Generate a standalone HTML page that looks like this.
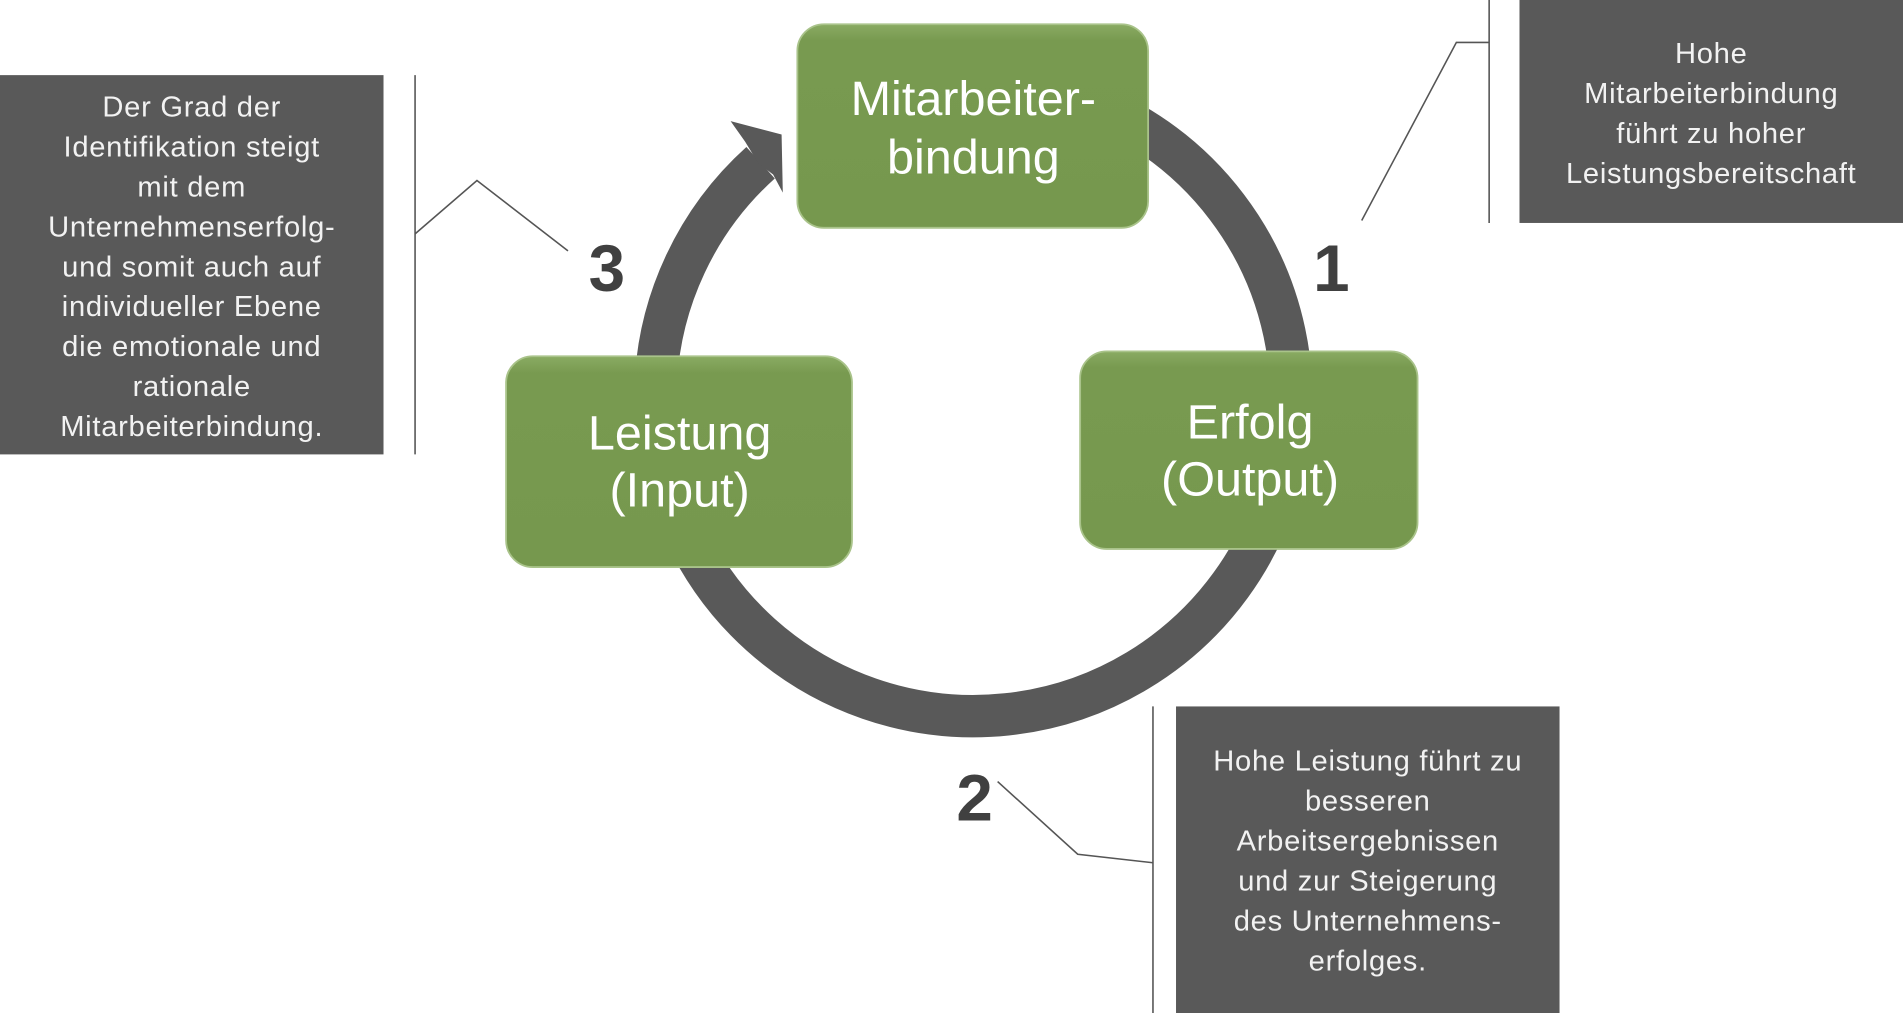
<!DOCTYPE html>
<html><head><meta charset="utf-8"><style>
html,body{margin:0;padding:0;background:#fff;overflow:hidden}
svg{display:block}
.bt{font-family:"Liberation Sans",sans-serif;fill:#f2f2f2;font-size:24px;text-anchor:middle;letter-spacing:0.6px}
.gt{font-family:"Liberation Sans",sans-serif;fill:#fff;font-size:40px;text-anchor:middle}
.num{font-family:"Liberation Sans",sans-serif;fill:#404040;font-size:54px;font-weight:bold;text-anchor:middle}
</style></head><body>
<svg width="1903" height="1013" viewBox="0 0 1568 836" preserveAspectRatio="none" xmlns="http://www.w3.org/2000/svg">
<defs>
<linearGradient id="g" x1="0" y1="0" x2="0" y2="1">
<stop offset="0" stop-color="#8aab63"/><stop offset="0.08" stop-color="#789a50"/><stop offset="1" stop-color="#76984e"/>
</linearGradient>
</defs>
<!-- ring -->
<path d="M626.7,134.3 A262,262 0 1 0 933,102.1" fill="none" stroke="#595959" stroke-width="35"/>
<polygon points="602,100 644,111 645,159 637,144 625,135 614,117" fill="#595959"/>
<!-- green boxes -->
<rect x="657" y="20" width="289" height="168" rx="22" fill="url(#g)" stroke="#a9c38a" stroke-width="1.5"/>
<rect x="890" y="290" width="278" height="163" rx="22" fill="url(#g)" stroke="#a9c38a" stroke-width="1.5"/>
<rect x="417" y="294" width="285" height="174" rx="22" fill="url(#g)" stroke="#a9c38a" stroke-width="1.5"/>
<text class="gt" x="802" y="95">Mitarbeiter-</text>
<text class="gt" x="802" y="143">bindung</text>
<text class="gt" x="1030" y="362">Erfolg</text>
<text class="gt" x="1030" y="409">(Output)</text>
<text class="gt" x="560" y="371">Leistung</text>
<text class="gt" x="560" y="418">(Input)</text>
<!-- numbers -->
<text class="num" x="1097" y="240">1</text>
<text class="num" x="500" y="240">3</text>
<text class="num" x="803" y="677">2</text>
<!-- connectors -->
<g stroke="#555" stroke-width="1.3" fill="none">
<line x1="342" y1="62" x2="342" y2="375"/>
<polyline points="342,193 393,149 468,207"/>
<line x1="1227" y1="0" x2="1227" y2="184"/>
<polyline points="1227,35 1200,35 1122,182"/>
<line x1="950" y1="583" x2="950" y2="836"/>
<polyline points="950,712 888,705 822,645"/>
</g>
<!-- dark boxes -->
<rect x="0" y="62" width="316" height="313" fill="#595959"/>
<rect x="1252" y="0" width="316" height="184" fill="#595959"/>
<rect x="969" y="583" width="316" height="253" fill="#595959"/>
<g class="bt">
<text x="158" y="96">Der Grad der</text>
<text x="158" y="129">Identifikation steigt</text>
<text x="158" y="162">mit dem</text>
<text x="158" y="195">Unternehmenserfolg-</text>
<text x="158" y="228">und somit auch auf</text>
<text x="158" y="261">individueller Ebene</text>
<text x="158" y="294">die emotionale und</text>
<text x="158" y="327">rationale</text>
<text x="158" y="360">Mitarbeiterbindung.</text>
<text x="1410" y="52">Hohe</text>
<text x="1410" y="85">Mitarbeiterbindung</text>
<text x="1410" y="118">führt zu hoher</text>
<text x="1410" y="151">Leistungsbereitschaft</text>
<text x="1127" y="636">Hohe Leistung führt zu</text>
<text x="1127" y="669">besseren</text>
<text x="1127" y="702">Arbeitsergebnissen</text>
<text x="1127" y="735">und zur Steigerung</text>
<text x="1127" y="768">des Unternehmens-</text>
<text x="1127" y="801">erfolges.</text>
</g>
</svg>
</body></html>
